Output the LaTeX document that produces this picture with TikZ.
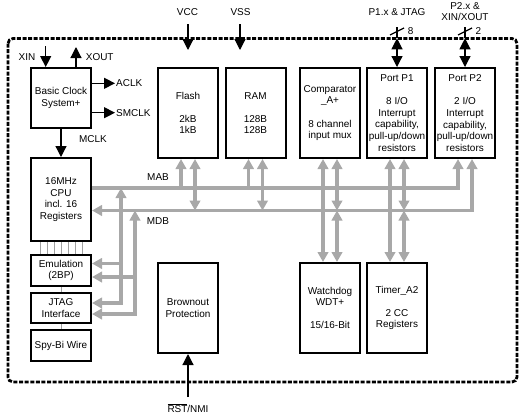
\documentclass[tikz,border=0pt]{standalone}
\usepackage{fontspec}
\setmainfont{Liberation Sans}
\usetikzlibrary{arrows.meta,calc}
\definecolor{busgray}{HTML}{A8A8A8}
\definecolor{thingray}{HTML}{A0A0A0}
\tikzset{
  bk/.tip={Triangle[length=11bp,width=11bp]},
  gy/.tip={Triangle[length=10bp,width=10.5bp]},
}
\begin{document}
\begin{tikzpicture}[x=1bp,y=-1bp,
  every node/.style={font=\fontsize{10}{11.6}\selectfont, inner sep=1bp},
  blk/.style={draw=black, line width=2bp, align=center, minimum width=60bp, inner sep=0pt},
  sig/.style={line width=1.2bp, draw=black},
  bus/.style={line width=3.4bp, draw=busgray},
  thinl/.style={line width=0.8bp, draw=thingray},
  border/.style={line width=2.8bp, dash pattern=on 4bp off 1.6bp, rounded corners=5bp},
]
\useasboundingbox (0,0) rectangle (522,415);

% outer chip border
\draw[border] (8,38.5) rectangle (517,382);

% blocks
\node[blk, minimum height=60bp] (clk) at (61,98) {Basic Clock\\System+};
\node[blk, minimum height=90bp] (flash) at (188,113) {Flash\\[11.6bp]2kB\\1kB};
\node[blk, minimum height=90bp] (ram) at (255.5,113) {RAM\\[11.6bp]128B\\128B};
\node[blk, minimum height=90bp] (comp) at (330,113) {Comparator\\\_A+\\[11.6bp]8 channel\\input mux};
\node[blk, minimum height=90bp] (p1) at (397,113) {Port P1\\[11.6bp]8 I/O\\Interrupt\\capability,\\pull-up/down\\resistors};
\node[blk, minimum height=90bp] (p2) at (465,113) {Port P2\\[11.6bp]2 I/O\\Interrupt\\capability,\\pull-up/down\\resistors};
\node[blk, minimum height=83bp] (cpu) at (61,199.5) {16MHz\\CPU\\incl. 16\\Registers};
\node[blk, minimum height=31bp] (emu) at (61,270.5) {Emulation\\(2BP)};
\node[blk, minimum height=30bp] (jtag) at (61,308) {JTAG\\Interface};
\node[blk, minimum height=31bp] (spy) at (61,345.5) {Spy-Bi Wire};
\node[blk, minimum height=90bp] (brown) at (188,308) {Brownout\\Protection};
\node[blk, minimum height=90bp] (wdt) at (330,308) {Watchdog\\WDT+\\[11.6bp]15/16-Bit};
\node[blk, minimum height=90bp] (timer) at (397,308) {Timer\_A2\\[11.6bp]2 CC\\Registers};

% bus levels
\coordinate (mab) at (0,188);
\coordinate (mdb) at (0,210.5);
\coordinate (va) at (121,0);
\coordinate (vb) at (135,0);

% labels
\node (mabl) at (158,176.7) {MAB};
\node (mdbl) at (158,221) {MDB};

% main buses
\draw[bus,-gy] (cpu.east |- mab) -| ([xshift=-7bp]p2.south);
\draw[bus,gy-gy] (cpu.east |- mdb) -| ([xshift=7bp]p2.south);

\foreach \nd in {flash,ram,comp,p1} {
  \draw[bus,-gy] ([xshift=-7bp]\nd.south |- mab) -- ([xshift=-7bp]\nd.south);
  \draw[bus,gy-gy] ([xshift=7bp]\nd.south |- mdb) -- ([xshift=7bp]\nd.south);
}
\foreach \nd in {wdt,timer} {
  \draw[bus,-gy] ([xshift=-7bp]\nd.north |- mab) -- ([xshift=-7bp]\nd.north);
  \draw[bus,gy-gy] ([xshift=7bp]\nd.north |- mdb) -- ([xshift=7bp]\nd.north);
}

% emulation / jtag bus links
\draw[bus,gy-gy] (va |- mab) |- ([yshift=5bp]jtag.east);
\draw[bus,-gy] ([yshift=7bp]emu.east -| va) -- ([yshift=7bp]emu.east);
\draw[bus,gy-gy] (vb |- mdb) |- ([yshift=-6bp]jtag.east);
\draw[bus,-gy] ([yshift=-6.5bp]emu.east -| vb) -- ([yshift=-6.5bp]emu.east);

% thin links
\foreach \dx in {-21,-14,-7,0,7,14,21} {
  \draw[thinl] ([xshift=\dx bp]cpu.south) -- ([xshift=\dx bp]emu.north);
}
\draw[thinl] (emu.south) -- (jtag.north);
\draw[thinl] (jtag.south) -- (spy.north);

% clock signals
\node (xinl) at (27,57) {XIN};
\coordinate (xinT) at (45.7,46);
\draw[sig,-bk] (xinT) -- (xinT |- clk.north);
\node (xoutl) at (99.7,56.7) {XOUT};
\coordinate (xoutT) at (76,47);
\draw[sig,-bk] (xoutT |- clk.north) -- (xoutT);
\node[anchor=west] (aclk) at (115,83.3) {ACLK};
\draw[sig,-bk] (clk.east |- aclk) -- (aclk.west);
\node[anchor=west] (smclk) at (115,112.7) {SMCLK};
\draw[sig,-bk] (clk.east |- smclk) -- (smclk.west);
\node (mclk) at (93,139.3) {MCLK};
\draw[sig,-bk] (clk.south) -- (cpu.north);

% supply
\node (vcc) at (187.5,11.7) {VCC};
\coordinate (vccS) at (188,24);
\coordinate (vccT) at (188,50);
\draw[sig,-bk] (vccS) -- (vccT);
\node (vss) at (240.5,11.7) {VSS};
\coordinate (vssS) at (240,24);
\coordinate (vssT) at (240,50);
\draw[sig,-bk] (vssS) -- (vssT);

% ports
\node (p1l) at (397,11.7) {P1.x \& JTAG};
\coordinate (p1S) at (397,27);
\coordinate (p1U) at (397,38.3);
\draw[sig] (p1S) -- (p1U);
\draw[sig,bk-bk] (p1U) -- (p1.north);
\draw[sig] (390,35) -- (404,28);
\node (w8) at (410.7,31) {8};

\node[align=center, font=\fontsize{10}{11.3}\selectfont] (p2l) at (465,11.7) {P2.x \&\\XIN/XOUT};
\coordinate (p2S) at (465,27);
\coordinate (p2U) at (465,38.3);
\draw[sig] (p2S) -- (p2U);
\draw[sig,bk-bk] (p2U) -- (p2.north);
\draw[sig] (458,35) -- (472,28);
\node (w2) at (478.3,31) {2};

% reset
\node (rst) at (188,408) {$\overline{\mbox{RST}}$/NMI};
\coordinate (rstS) at (188,397);
\draw[sig,-bk] (rstS) -- (brown.south);
\end{tikzpicture}
\end{document}
